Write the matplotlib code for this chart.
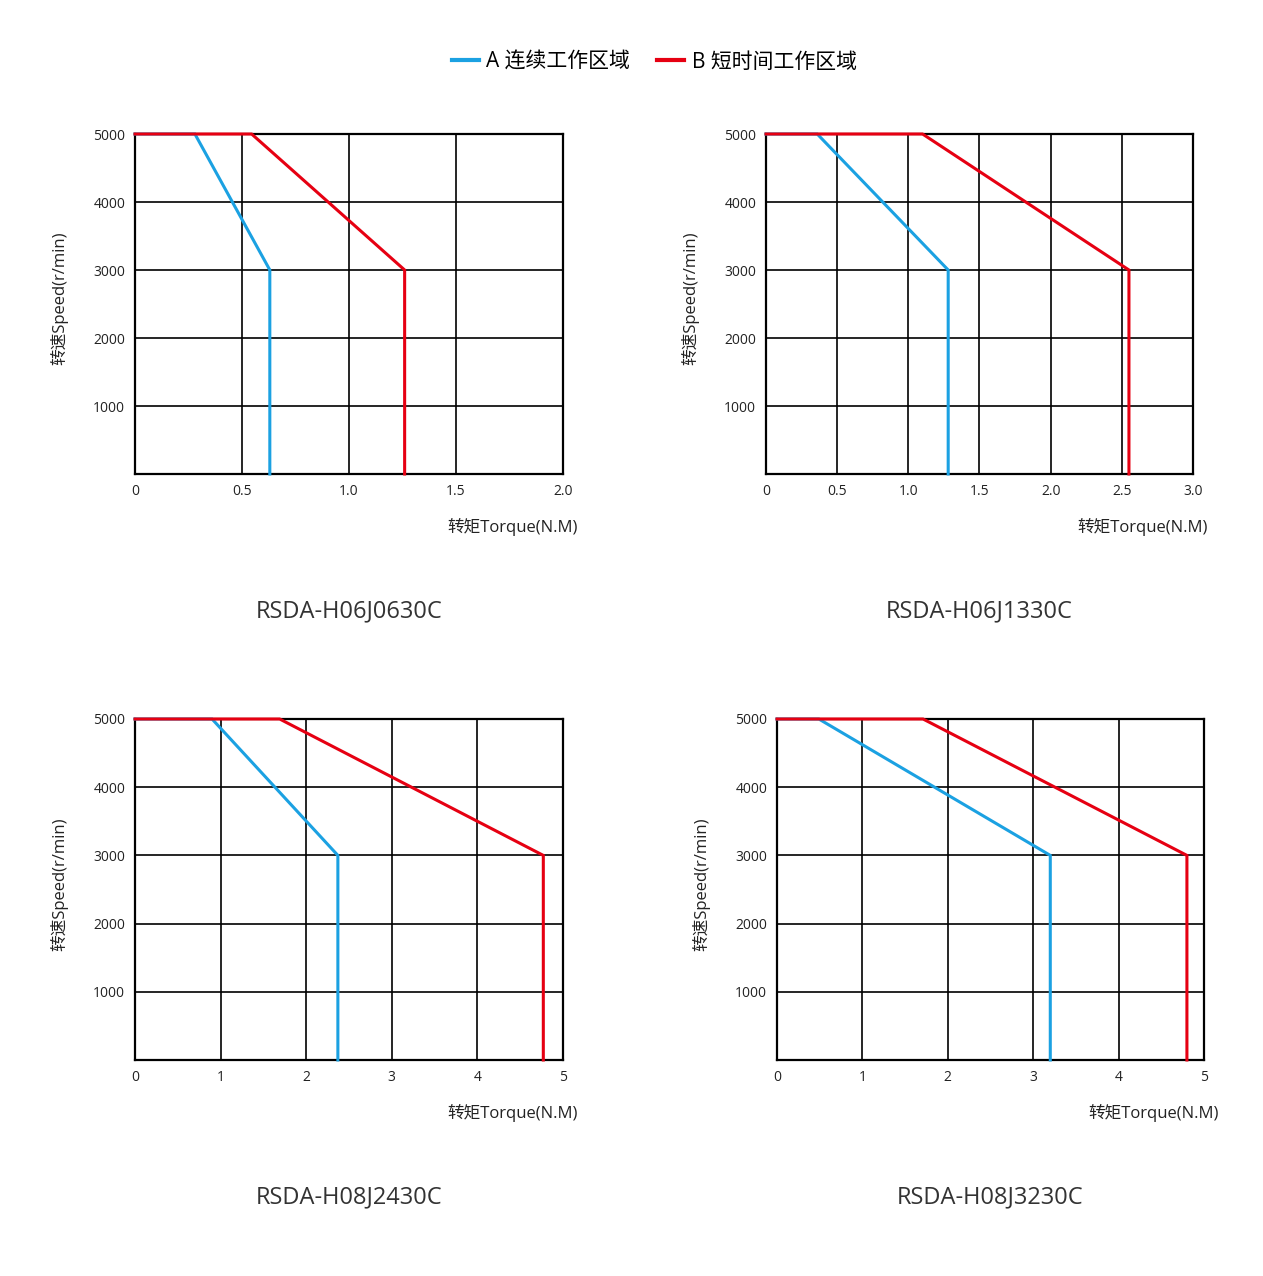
import matplotlib
matplotlib.use("Agg")
import matplotlib.pyplot as plt
from matplotlib.lines import Line2D

plt.rcParams['font.family'] = ['Open Sans', 'Noto Sans CJK SC', 'DejaVu Sans']

# model names
models = ["RSDA-H06J0630C", "RSDA-H06J1330C", "RSDA-H08J2430C", "RSDA-H08J3230C"]

# speed points shared by every curve (r/min)
speed = [5000, 5000, 3000, 0]

# continuous zone (A) torque points
torque_a = [
    [0, 0.28, 0.63, 0.63],
    [0, 0.36, 1.28, 1.28],
    [0, 0.90, 2.37, 2.37],
    [0, 0.49, 3.20, 3.20],
]
# short-time zone (B) torque points
torque_b = [
    [0, 0.545, 1.26, 1.26],
    [0, 1.10, 2.55, 2.55],
    [0, 1.69, 4.77, 4.77],
    [0, 1.71, 4.80, 4.80],
]

x_max = [2.0, 3.0, 5, 5]
x_ticks = [
    [0, 0.5, 1.0, 1.5, 2.0],
    [0, 0.5, 1.0, 1.5, 2.0, 2.5, 3.0],
    [0, 1, 2, 3, 4, 5],
    [0, 1, 2, 3, 4, 5],
]
x_ticklabels = [
    ["0", "0.5", "1.0", "1.5", "2.0"],
    ["0", "0.5", "1.0", "1.5", "2.0", "2.5", "3.0"],
    ["0", "1", "2", "3", "4", "5"],
    ["0", "1", "2", "3", "4", "5"],
]
y_ticks = [1000, 2000, 3000, 4000, 5000]

blue = '#1ba1e2'
red = '#e60012'

W, H = 1263, 1276
fig = plt.figure(figsize=(W / 100, H / 100), dpi=100)

# axes boxes in pixels: left, top, right, bottom
boxes = [
    (135, 134, 563, 474),
    (766, 134, 1193, 474),
    (135, 719, 563, 1060),
    (777, 719, 1204, 1060),
]

for i, (l, t, r, b) in enumerate(boxes):
    ax = fig.add_axes([l / W, 1 - b / H, (r - l) / W, (b - t) / H])
    ax.plot(torque_a[i], speed, color=blue, lw=2.2, zorder=5, clip_on=False,
            solid_joinstyle='miter')
    ax.plot(torque_b[i], speed, color=red, lw=2.2, zorder=6, clip_on=False,
            solid_joinstyle='miter')
    ax.set_xlim(0, x_max[i])
    ax.set_ylim(0, 5000)
    ax.set_xticks(x_ticks[i])
    ax.set_xticklabels(x_ticklabels[i])
    ax.set_yticks(y_ticks)
    ax.tick_params(length=0, labelsize=10, pad=7, colors='#222222')
    ax.grid(True, color='black', lw=1.2)
    ax.set_axisbelow(True)
    for s in ax.spines.values():
        s.set_linewidth(1.6)
        s.set_color('black')
    ax.set_ylabel("转速Speed(r/min)", fontsize=12, color='#222222', va='center')
    ax.yaxis.set_label_coords(-76 / (r - l), 0.516)
    ax.set_xlabel("转矩Torque(N.M)", fontsize=12, color='#222222', ha='right', va='center')
    ax.xaxis.set_label_coords(1.035, -0.155)
    cx = (l + r) / 2 / W
    cy = 1 - (b + 137) / H
    fig.text(cx, cy, models[i], fontsize=17, ha='center', va='center', color='#333333')

handles = [Line2D([], [], color=blue, lw=3), Line2D([], [], color=red, lw=3)]
fig.legend(handles, ["A 连续工作区域", "B 短时间工作区域"], loc='center',
           bbox_to_anchor=(0.518, 1 - 62 / H), ncol=2, frameon=False, fontsize=15,
           handlelength=1.3, handletextpad=0.35, columnspacing=1.3)

fig.savefig("out.png", dpi=100, facecolor='white')
